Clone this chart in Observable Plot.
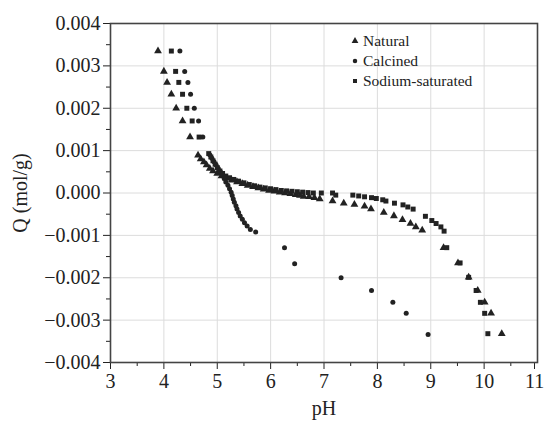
<!DOCTYPE html>
<html>
<head>
<meta charset="utf-8">
<script src="https://cdn.jsdelivr.net/npm/d3@7"></script>
<script src="https://cdn.jsdelivr.net/npm/@observablehq/plot@0.6"></script>
<style>
  body { margin: 0; background: #fff; overflow: hidden; }
  #wrap { position: relative; width: 545px; height: 426px; font-family: "Liberation Serif", "DejaVu Serif", serif; }
  #chart svg { overflow: visible; }
  #legend { position: absolute; left: 348px; top: 31px; font-size: 15.5px; color: #222; line-height: 20px; }
  #legend div { display: flex; align-items: center; height: 20px; }
  #legend svg { width: 14px; height: 12px; margin-right: 1px; }
</style>
</head>
<body>
<div id="wrap">
  <div id="chart"></div>
  <div id="legend"></div>
</div>
<script>
// Natural (triangles)
const naturalPH = [3.89, 4.00, 4.06, 4.14, 4.23, 4.35, 4.49, 4.64, 4.69, 4.75, 4.80, 4.86, 4.92, 5.00, 5.08, 5.17, 5.27, 5.37, 5.47, 5.57, 5.67, 5.77, 5.87, 5.97, 6.07, 6.17, 6.27, 6.37, 6.47, 6.55, 6.62, 6.72, 6.82, 6.92, 7.16, 7.37, 7.57, 7.76, 7.88, 8.12, 8.31, 8.47, 8.62, 8.72, 8.84, 9.24, 9.51, 9.71, 9.88, 10.01, 10.13, 10.33];
const naturalQ = [0.00335, 0.00287, 0.00261, 0.00233, 0.00200, 0.00170, 0.00132, 0.00089, 0.00080, 0.00073, 0.00066, 0.00058, 0.00052, 0.00046, 0.00040, 0.00035, 0.00030, 0.00026, 0.00022, 0.00018, 0.00015, 0.00012, 0.00009, 0.00006, 0.00004, 0.00002, 0.00000, -0.00002, -0.00004, -0.00006, -0.00008, -0.00009, -0.00011, -0.00014, -0.00019, -0.00024, -0.00027, -0.00031, -0.00038, -0.00046, -0.00054, -0.00063, -0.00072, -0.00080, -0.00088, -0.00129, -0.00165, -0.00199, -0.00230, -0.00258, -0.00284, -0.00332];

// Calcined (circles)
const calcinedPH = [4.30, 4.39, 4.45, 4.50, 4.57, 4.65, 4.73, 4.86, 4.90, 4.94, 4.98, 5.02, 5.06, 5.10, 5.13, 5.16, 5.20, 5.23, 5.26, 5.28, 5.30, 5.32, 5.35, 5.37, 5.40, 5.43, 5.47, 5.51, 5.56, 5.62, 5.72, 6.26, 6.45, 7.32, 7.89, 8.29, 8.54, 8.95];
const calcinedQ = [0.00335, 0.00287, 0.00261, 0.00233, 0.00200, 0.00170, 0.00132, 0.00090, 0.00082, 0.00074, 0.00066, 0.00058, 0.00050, 0.00042, 0.00034, 0.00026, 0.00018, 0.00010, 0.00002, -0.00006, -0.00014, -0.00022, -0.00030, -0.00038, -0.00046, -0.00054, -0.00062, -0.00070, -0.00078, -0.00086, -0.00092, -0.00129, -0.00167, -0.00200, -0.00230, -0.00258, -0.00284, -0.00334];

// Sodium-saturated (squares)
const sodiumPH = [4.14, 4.22, 4.28, 4.35, 4.43, 4.53, 4.66, 4.84, 4.88, 4.92, 4.96, 5.00, 5.05, 5.10, 5.16, 5.23, 5.31, 5.40, 5.50, 5.60, 5.70, 5.80, 5.90, 6.00, 6.10, 6.20, 6.30, 6.40, 6.50, 6.60, 6.70, 6.80, 6.95, 7.16, 7.22, 7.54, 7.65, 7.76, 7.89, 7.98, 8.10, 8.16, 8.32, 8.48, 8.57, 8.67, 8.90, 9.02, 9.10, 9.19, 9.25, 9.30, 9.55, 9.71, 9.85, 9.93, 10.01, 10.07];
const sodiumQ = [0.00335, 0.00287, 0.00261, 0.00233, 0.00200, 0.00170, 0.00132, 0.00093, 0.00085, 0.00076, 0.00068, 0.00060, 0.00052, 0.00046, 0.00040, 0.00036, 0.00032, 0.00028, 0.00024, 0.00020, 0.00017, 0.00014, 0.00012, 0.00010, 0.00008, 0.00006, 0.00005, 0.00004, 0.00003, 0.00002, 0.00001, 0.00000, 0.00000, 0.00000, -0.00005, -0.00005, -0.00007, -0.00009, -0.00011, -0.00013, -0.00016, -0.00019, -0.00024, -0.00028, -0.00033, -0.00038, -0.00055, -0.00065, -0.00072, -0.00080, -0.00090, -0.00129, -0.00165, -0.00199, -0.00230, -0.00258, -0.00284, -0.00332];

const seriesNames = ["Natural", "Calcined", "Sodium-saturated"];
const xTicks = [3, 4, 5, 6, 7, 8, 9, 10, 11];
const xMinor = [3.5, 4.5, 5.5, 6.5, 7.5, 8.5, 9.5, 10.5];
const yTicks = [-0.004, -0.003, -0.002, -0.001, 0, 0.001, 0.002, 0.003, 0.004];
const yMinor = [-0.0035, -0.0025, -0.0015, -0.0005, 0.0005, 0.0015, 0.0025, 0.0035];

const toRows = (xs, ys) => xs.map((x, i) => ({pH: x, Q: ys[i]}));
const natural = toRows(naturalPH, naturalQ);
const calcined = toRows(calcinedPH, calcinedQ);
const sodium = toRows(sodiumPH, sodiumQ);

const ink = "#222";
const font = "Liberation Serif";

const chart = Plot.plot({
  width: 545,
  height: 426,
  marginLeft: 110,
  marginRight: 8,
  marginTop: 23,
  marginBottom: 64,
  style: {fontFamily: font, fontSize: "20px", color: ink, background: "white", overflow: "visible"},
  x: {domain: [3, 11]},
  y: {domain: [-0.004, 0.004]},
  marks: [
    Plot.gridX(xTicks.slice(1, -1), {stroke: "#dcdcdc", strokeOpacity: 1, strokeWidth: 1}),
    Plot.gridY(yTicks.slice(1, -1), {stroke: "#dcdcdc", strokeOpacity: 1, strokeWidth: 1}),
    Plot.axisX({ticks: xTicks.slice(0, -1), tickSize: 7, tickPadding: 4, fontSize: 20, label: "pH", labelAnchor: "center", labelArrow: "none", labelOffset: 52, stroke: ink}),
    Plot.axisX({ticks: xTicks.slice(-1), tickSize: 7, tickPadding: 4, fontSize: 20, dx: -3, label: null, stroke: ink}),
    Plot.axisX({ticks: xMinor, tickSize: 4, text: null, label: null, stroke: ink}),
    Plot.axisY({ticks: yTicks, tickSize: 7, tickPadding: 3, fontSize: 20, tickFormat: d3.format(".3f"), label: "Q (mol/g)", labelAnchor: "center", labelArrow: "none", labelOffset: 98, stroke: ink}),
    Plot.axisY({ticks: yMinor, tickSize: 4, text: null, label: null, stroke: ink}),
    Plot.dot(natural, {x: "pH", y: "Q", symbol: "triangle", r: 2.9, fill: ink, stroke: "none"}),
    Plot.dot(calcined, {x: "pH", y: "Q", symbol: "circle", r: 2.5, fill: ink, stroke: "none"}),
    Plot.dot(sodium, {x: "pH", y: "Q", symbol: "square", r: 2.8, fill: ink, stroke: "none"}),
    Plot.frame({stroke: "#444", strokeWidth: 1.6})
  ]
});
document.getElementById("chart").appendChild(chart);

// Legend
const legend = document.getElementById("legend");
seriesNames.forEach((name, i) => {
  const row = document.createElement("div");
  const sym = d3.symbol(i === 0 ? d3.symbolTriangle : i === 1 ? d3.symbolCircle : d3.symbolSquare, i === 0 ? 20 : 16)();
  row.innerHTML = `<svg viewBox="-7 -6 14 12"><path d="${sym}" fill="${ink}"/></svg><span>${name}</span>`;
  legend.appendChild(row);
});
</script>
</body>
</html>
